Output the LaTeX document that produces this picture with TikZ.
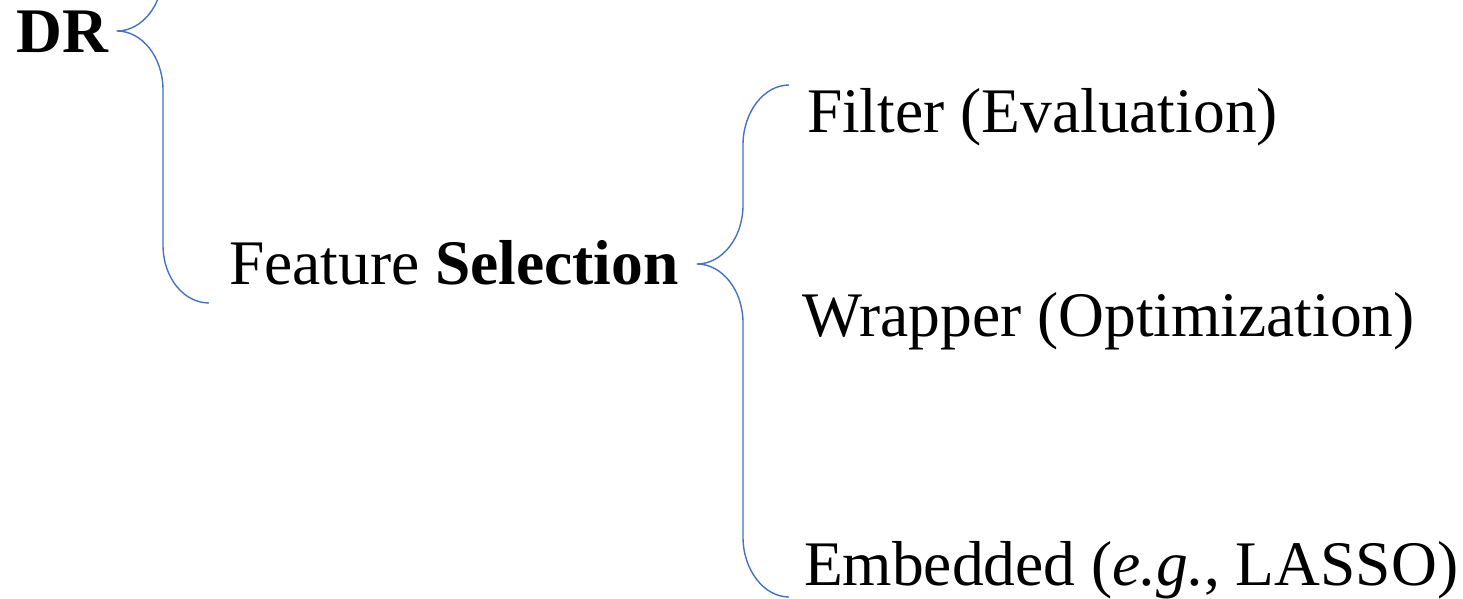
\documentclass[tikz,border=0pt]{standalone}
\usepackage{fontspec}
\setmainfont{Liberation Serif}
\begin{document}
\begin{tikzpicture}[x=0.5pt,y=-0.5pt,
  label/.style={anchor=base west,inner sep=0pt,outer sep=0pt,
    font=\fontsize{31.75}{38}\selectfont},
  bracket/.style={draw={rgb,255:red,68;green,114;blue,196},line width=0.7pt,
    line join=round}]
\useasboundingbox (0,0) rectangle (1463,599);
\clip (0,0) rectangle (1463,599);

% labels
\node[label] (dr)  at (17,53)  {\bfseries DR};
\node[label] (fs)  at (229,285) {Feature \textbf{Selection}};
\node[label] (fil) at (807,133) {Filter (Evaluation)};
\node[label] (wra) at (802,336) {Wrapper (Optimization)};
\node[label] (emb) at (804,585) {Embedded (\textit{e.g.}, LASSO)};

% brace joining DR to its branches
\coordinate (drtip) at (117,31);
\draw[bracket] (163,-160) -- (163,-28)
  .. controls (163,5) and (142,31) .. (drtip)
  .. controls (142,31) and (163,57) .. (163,90)
  -- (163,245)
  .. controls (163,278) and (184,303) .. (209,303);

% brace joining Feature Selection to its three methods
\coordinate (fstip) at (697,264);
\draw[bracket] (789,85)
  .. controls (764,85) and (743,112) .. (743,145)
  -- (743,205)
  .. controls (743,238) and (722,264) .. (fstip)
  .. controls (722,264) and (743,290) .. (743,323)
  -- (743,537)
  .. controls (743,570) and (764,597) .. (789,597);
\end{tikzpicture}
\end{document}
